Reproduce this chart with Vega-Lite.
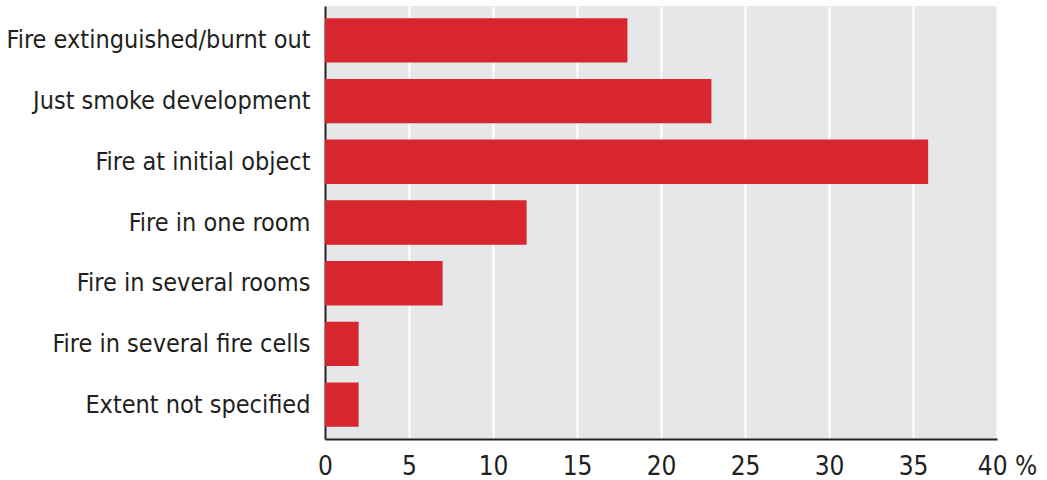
{
  "$schema": "https://vega.github.io/schema/vega-lite/v6.json",
  "width": 672,
  "height": 433,
  "autosize": "none",
  "padding": {"left": 325, "top": 6, "right": 50, "bottom": 41},
  "background": "white",
  "config": {
    "view": {"fill": "#e6e7e8", "stroke": null},
    "font": "DejaVu Sans Condensed"
  },
  "data": {
    "values": [
      {"category": "Fire extinguished/burnt out", "percent": 18},
      {"category": "Just smoke development", "percent": 23},
      {"category": "Fire at initial object", "percent": 35.9},
      {"category": "Fire in one room", "percent": 12},
      {"category": "Fire in several rooms", "percent": 7},
      {"category": "Fire in several fire cells", "percent": 2},
      {"category": "Extent not specified", "percent": 2}
    ]
  },
  "mark": {"type": "bar", "color": "#d7262e"},
  "encoding": {
    "y": {
      "field": "category",
      "type": "nominal",
      "sort": null,
      "title": null,
      "scale": {"paddingInner": 0.27, "paddingOuter": 0.2},
      "axis": {
        "ticks": false,
        "grid": false,
        "domain": true,
        "domainColor": "#231f20",
        "domainWidth": 2,
        "labelFontSize": 25,
        "labelColor": "#231f20",
        "labelPadding": 15,
        "labelLimit": 400
      }
    },
    "x": {
      "field": "percent",
      "type": "quantitative",
      "title": null,
      "scale": {"domain": [0, 40], "nice": false},
      "axis": {
        "values": [0, 5, 10, 15, 20, 25, 30, 35, 40],
        "ticks": false,
        "grid": true,
        "gridColor": "white",
        "gridWidth": 2,
        "domain": true,
        "domainColor": "#231f20",
        "domainWidth": 2,
        "labelFontSize": 26,
        "labelColor": "#231f20",
        "labelPadding": 14,
        "labelFlush": false,
        "labelExpr": "datum.value == 40 ? '40 %' : datum.label",
        "labelOffset": {"condition": {"test": "datum.value == 40", "value": 10}, "value": 0}
      }
    }
  }
}
